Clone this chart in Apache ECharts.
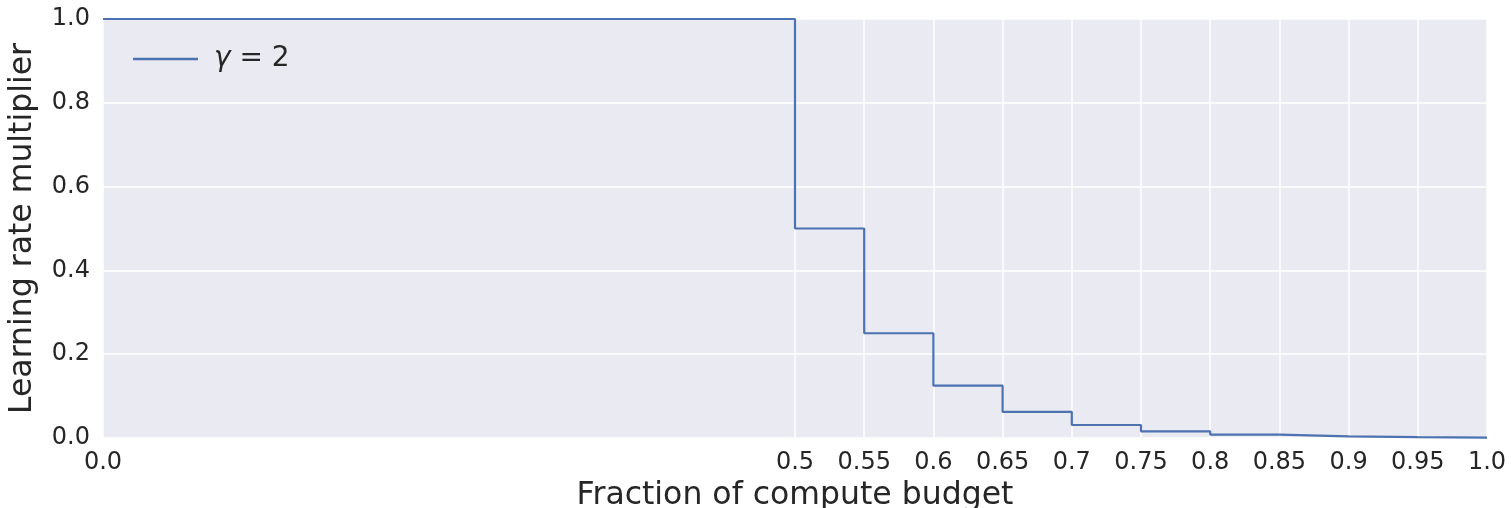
<!DOCTYPE html>
<html>
<head>
<meta charset="utf-8">
<script src="https://cdn.jsdelivr.net/npm/echarts@6/dist/echarts.min.js"></script>
<style>html,body{margin:0;padding:0;background:#fff}#c{width:1511px;height:508px}</style>
</head>
<body>
<div id="c"></div>
<script>
// Step points: value held from x until next x
var stepX = [0.0, 0.5, 0.55, 0.6, 0.65, 0.7, 0.75, 0.8, 0.85, 0.9, 0.95, 1.0];
var stepY = [1.0, 0.5, 0.25, 0.125, 0.0625, 0.031, 0.016, 0.008, 0.004, 0.002, 0.001, 0.001];
var xTicks = [0.0, 0.5, 0.55, 0.6, 0.65, 0.7, 0.75, 0.8, 0.85, 0.9, 0.95, 1.0];
var xTickLabels = ['0.0', '0.5', '0.55', '0.6', '0.65', '0.7', '0.75', '0.8', '0.85', '0.9', '0.95', '1.0'];
var yTicks = [0.0, 0.2, 0.4, 0.6, 0.8, 1.0];
var yTickLabels = ['0.0', '0.2', '0.4', '0.6', '0.8', '1.0'];
var seriesName = 'γ = 2';

var chart = echarts.init(document.getElementById('c'), null, {renderer: 'canvas'});
var data = stepX.map(function (x, i) { return [x, stepY[i]]; });
var font = 'DejaVu Sans';
var txt = '#262626';

function lookup(ticks, labels, v) {
  for (var i = 0; i < ticks.length; i++) {
    if (Math.abs(ticks[i] - v) < 1e-6) return labels[i];
  }
  return '';
}

chart.setOption({
  animation: false,
  backgroundColor: '#ffffff',
  grid: {
    left: 103, right: 24, top: 19, bottom: 70, show: true, backgroundColor: '#EAEAF2', borderWidth: 0,
    containLabel: false, outerBoundsMode: 'none'
  },
  legend: {
    left: 128, top: 40,
    icon: 'rect', itemWidth: 65, itemHeight: 2.5,
    data: [seriesName],
    textStyle: {
      fontFamily: font, fontSize: 28, color: txt, padding: [0, 0, 0, 11],
      rich: {g: {fontFamily: font, fontSize: 28, fontStyle: 'italic', color: txt}}
    },
    formatter: function (n) { return '{g|γ} = 2'; }
  },
  xAxis: {
    type: 'value', min: 0, max: 1, interval: 0.05,
    name: 'Fraction of compute budget', nameLocation: 'middle', nameGap: 37,
    nameTextStyle: {fontFamily: font, fontSize: 31.5, color: txt},
    axisLine: {show: false}, axisTick: {show: false}, splitLine: {show: false},
    axisLabel: {
      fontFamily: font, fontSize: 24, color: txt, margin: 13,
      formatter: function (v) { return lookup(xTicks, xTickLabels, v); }
    }
  },
  yAxis: {
    type: 'value', min: 0, max: 1, interval: 0.2,
    name: 'Learning rate multiplier', nameLocation: 'middle', nameGap: 64,
    nameTextStyle: {fontFamily: font, fontSize: 31.5, color: txt},
    axisLine: {show: false}, axisTick: {show: false},
    splitLine: {show: true, lineStyle: {color: '#ffffff', width: 1.5}},
    axisLabel: {
      fontFamily: font, fontSize: 24, color: txt, margin: 13,
      formatter: function (v) { return lookup(yTicks, yTickLabels, v); }
    }
  },
  series: [
    {
      type: 'line', name: '_grid', data: [], z: 1, silent: true,
      markLine: {
        silent: true, symbol: 'none', label: {show: false}, z: 1,
        lineStyle: {color: '#ffffff', width: 1.5, type: 'solid'},
        data: xTicks.map(function (x) { return {xAxis: x}; })
      }
    },
    {
      type: 'line', name: seriesName, data: data, step: 'end', z: 3, clip: false,
      showSymbol: false, symbol: 'none',
      lineStyle: {color: '#4C72B0', width: 2.2},
      itemStyle: {color: '#4C72B0'}
    }
  ]
});
</script>
</body>
</html>
